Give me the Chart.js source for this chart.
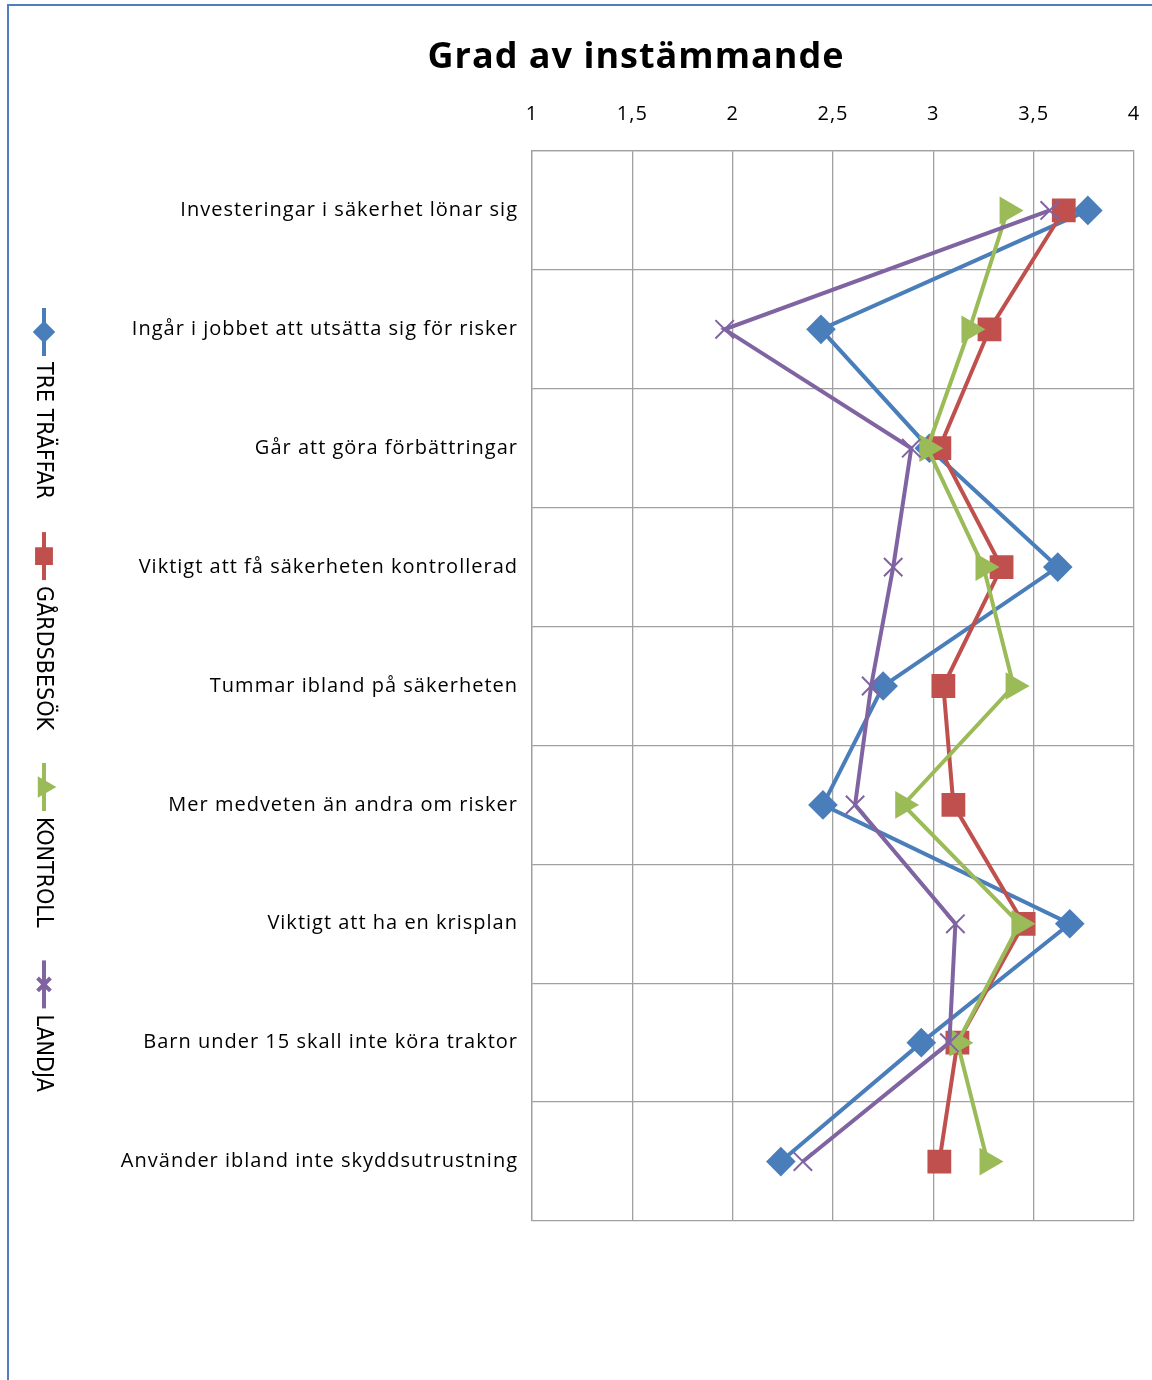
<!DOCTYPE html>
<html lang="sv">
<head>
    <meta charset="UTF-8">
    <script src="https://cdn.jsdelivr.net/npm/chart.js"></script>
    <title>Grad av instämmande</title>
    <style>
        body { margin: 0; background: #fff; }
    </style>
</head>
<body>
    <canvas id="grad" width="1152" height="1380"></canvas>
    <script>
        // data
        const categories = [
            'Investeringar i säkerhet lönar sig',
            'Ingår i jobbet att utsätta sig för risker',
            'Går att göra förbättringar',
            'Viktigt att få säkerheten kontrollerad',
            'Tummar ibland på säkerheten',
            'Mer medveten än andra om risker',
            'Viktigt att ha en krisplan',
            'Barn under 15 skall inte köra traktor',
            'Använder ibland inte skyddsutrustning'
        ];
        const treTraffar = [3.77, 2.44, 2.98, 3.62, 2.75, 2.45, 3.68, 2.94, 2.24];
        const gardsbesok = [3.65, 3.28, 3.03, 3.34, 3.05, 3.10, 3.45, 3.12, 3.03];
        const kontroll   = [3.37, 3.18, 2.97, 3.25, 3.40, 2.85, 3.43, 3.12, 3.27];
        const landja     = [3.58, 1.96, 2.89, 2.80, 2.69, 2.61, 3.11, 3.08, 2.35];
        const xTickLabels = ['1', '1,5', '2', '2,5', '3', '3,5', '4'];
        const chartTitle = 'Grad av instämmande';

        const font = '"Open Sans", Lato, sans-serif';

        // frame, title and the rotated legend on the left
        const frameAndLegend = {
            id: 'frameAndLegend',
            beforeDraw(chart) {
                const c = chart.ctx;
                c.letterSpacing = '1px';
                c.save();
                c.strokeStyle = '#4f7fc0';
                c.lineWidth = 2;
                c.beginPath();
                c.moveTo(8, 1380);
                c.lineTo(8, 5);
                c.lineTo(1152, 5);
                c.stroke();
                c.fillStyle = '#000';
                c.font = 'bold 36px ' + font;
                c.textAlign = 'center';
                c.textBaseline = 'middle';
                c.fillText(chartTitle, 636, 58);
                c.restore();
            },
            afterDraw(chart) {
                const c = chart.ctx;
                c.save();
                c.letterSpacing = '0px';
                c.font = '23px "Liberation Sans Narrow", "DejaVu Sans Condensed", sans-serif';
                let y = 308;
                chart.data.datasets.forEach(ds => {
                    c.save();
                    c.translate(44, y);
                    c.rotate(Math.PI / 2);
                    c.strokeStyle = ds.borderColor;
                    c.fillStyle = ds.borderColor;
                    c.lineWidth = 4;
                    c.beginPath();
                    c.moveTo(0, 0);
                    c.lineTo(48, 0);
                    c.stroke();
                    Chart.helpers.drawPoint(c, {
                        pointStyle: ds.pointStyle,
                        radius: ds.pointRadius * 0.7,
                        rotation: (ds.pointRotation || 0) - 90,
                        borderWidth: ds.pointBorderWidth || 1
                    }, 24, 0);
                    c.fillStyle = '#000';
                    c.textBaseline = 'middle';
                    c.textAlign = 'left';
                    c.fillText(ds.label, 54, 1);
                    const w = c.measureText(ds.label).width;
                    c.restore();
                    y += 48 + 6 + w + 33;
                });
                c.restore();
            }
        };

        function series(label, data, color, style, radius, extra) {
            return Object.assign({
                label: label,
                data: data,
                borderColor: color,
                backgroundColor: color,
                pointBackgroundColor: color,
                pointBorderColor: color,
                borderWidth: 4,
                pointStyle: style,
                pointRadius: radius,
                pointHoverRadius: radius,
                tension: 0
            }, extra || {});
        }

        new Chart(document.getElementById('grad'), {
            type: 'line',
            data: {
                labels: categories,
                datasets: [
                    series('TRE TRÄFFAR', treTraffar, '#4a7ebb', 'rectRot', 12, { order: 3 }),
                    series('GÅRDSBESÖK', gardsbesok, '#c0504d', 'rect', 14, { order: 2 }),
                    series('KONTROLL', kontroll, '#9bbb59', 'triangle', 12, { order: 1, pointRotation: 90 }),
                    series('LANDJA', landja, '#8064a2', 'crossRot', 13, { order: 0, pointBorderWidth: 2 })
                ]
            },
            options: {
                responsive: false,
                animation: false,
                indexAxis: 'y',
                layout: { autoPadding: false, padding: { left: 0, right: 18, top: 82, bottom: 159 } },
                plugins: {
                    legend: { display: false },
                    tooltip: { enabled: false },
                    title: { display: false }
                },
                scales: {
                    x: {
                        type: 'linear',
                        position: 'top',
                        min: 1,
                        max: 4,
                        afterFit(s) { s.height = 151 - 82; },
                        ticks: {
                            stepSize: 0.5,
                            padding: 4,
                            color: '#000',
                            font: { family: font, size: 20 },
                            callback: (v, i) => xTickLabels[i]
                        },
                        grid: { color: '#a0a0a0', lineWidth: 1.3, drawTicks: true, tickLength: 21, tickColor: 'rgba(0,0,0,0)' },
                        border: { color: '#a0a0a0', width: 1.3 }
                    },
                    y: {
                        type: 'category',
                        offset: true,
                        afterFit(s) { s.width = 532; },
                        ticks: {
                            padding: 14,
                            color: '#000',
                            font: { family: font, size: 20 }
                        },
                        grid: { color: '#a0a0a0', lineWidth: 1.3, offset: true, drawTicks: false },
                        border: { color: '#a0a0a0', width: 1.3 }
                    }
                }
            },
            plugins: [frameAndLegend]
        });
    </script>
</body>
</html>
